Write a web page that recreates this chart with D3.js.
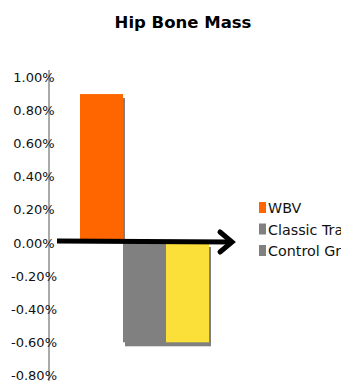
<!DOCTYPE html>
<html><head><meta charset="utf-8">
<script src="https://cdn.jsdelivr.net/npm/d3@7"></script>
<style>body{margin:0;background:#fff}svg{display:block}</style>
</head><body>
<script>
const categories = ["WBV", "Classic Training", "Control Group"];
const values = [0.0090, -0.0060, -0.0060];
const barColors = ["#FF6600", "#808080", "#FCE03A"];
const legendColors = ["#FF6600", "#808080", "#808080"];
const yTicks = [-0.008, -0.006, -0.004, -0.002, 0, 0.002, 0.004, 0.006, 0.008, 0.010];
const title = "Hip Bone Mass";

const W = 341, H = 381;
const svg = d3.select("body").append("svg").attr("width", W).attr("height", H);
const font = "'DejaVu Sans', Verdana, sans-serif";

const y = d3.scaleLinear().domain([-0.008, 0.010]).range([375.4, 77.5]);
const x = d3.scaleBand().domain(categories).range([80, 209]).padding(0);
const y0 = y(0);

svg.append("text").attr("x", 183).attr("y", 28).attr("text-anchor", "middle")
  .style("font-family", font).style("font-weight", "bold").style("font-size", "16.5px")
  .text(title);

// axis line
svg.append("line").attr("x1", 49).attr("x2", 49).attr("y1", 70).attr("y2", H)
  .attr("stroke", "#555").attr("stroke-width", 1);

// tick labels
const fmt = d3.format(".2%");
svg.selectAll(".tick").data(yTicks).enter().append("text")
  .attr("x", 34).attr("y", d => y(d)).attr("dy", "0.35em").attr("text-anchor", "middle")
  .style("font-family", font).style("font-size", "13px").attr("fill", "#111")
  .text(d => fmt(d).replace("−", "-"));

// shadows
svg.selectAll(".shadow").data(values).enter().append("rect")
  .attr("x", (d, i) => x(categories[i]) + 2)
  .attr("y", d => Math.min(y(d), y0) + 4)
  .attr("width", x.bandwidth())
  .attr("height", d => Math.abs(y(d) - y0) - (d > 0 ? 4 : 0))
  .attr("fill", "#808080");

// bars
svg.selectAll(".bar").data(values).enter().append("rect")
  .attr("x", (d, i) => x(categories[i]))
  .attr("y", d => Math.min(y(d), y0))
  .attr("width", x.bandwidth())
  .attr("height", d => Math.abs(y(d) - y0))
  .attr("fill", (d, i) => barColors[i]);

// arrow
svg.append("line").attr("x1", 57).attr("x2", 231).attr("y1", y0 - 2).attr("y2", y0 - 1)
  .attr("stroke", "#000").attr("stroke-width", 5);
svg.append("path")
  .attr("d", `M220,${y0 - 11} L232,${y0 - 1} L220,${y0 + 9}`)
  .attr("fill", "none").attr("stroke", "#000").attr("stroke-width", 5)
  .attr("stroke-linecap", "round").attr("stroke-linejoin", "miter");

// legend
const lg = svg.selectAll(".lg").data(categories).enter().append("g")
  .attr("transform", (d, i) => `translate(259,${202 + i * 21.5})`);
lg.append("rect").attr("width", 7).attr("height", 11).attr("fill", (d, i) => legendColors[i]);
lg.append("text").attr("x", 9).attr("y", 11).style("font-family", font).style("font-size", "14.3px")
  .attr("fill", "#111").text(d => d);
</script>
</body></html>
